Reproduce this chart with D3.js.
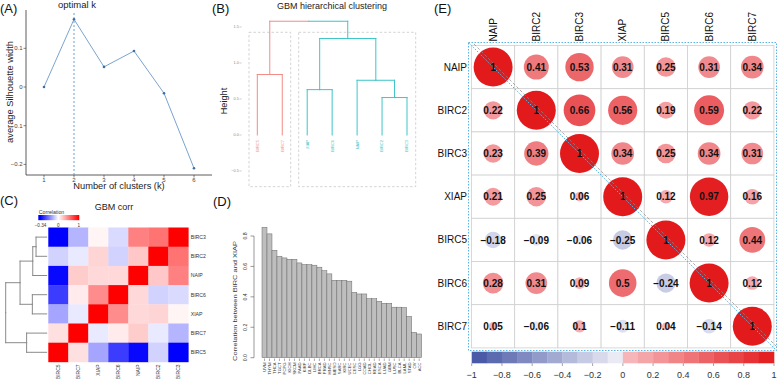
<!DOCTYPE html>
<html><head><meta charset="utf-8">
<script src="https://cdn.jsdelivr.net/npm/d3@7"></script>
<style>body{margin:0;background:#fff}svg{display:block;font-family:"Liberation Sans",Arial,sans-serif}</style>
</head><body><svg id="c" width="778" height="383"></svg>
<script>
// ---------- data ----------
const silK = [1, 2, 3, 4, 5, 6];
const silWidth = [0, 0.175, 0.052, 0.093, -0.016, -0.21];
const optimalK = 2;
const silYTicks = [-0.2, -0.1, 0, 0.1];

const hcLeaves = ["BIRC5", "BIRC7", "XIAP", "BIRC6", "NAIP", "BIRC2", "BIRC3"];
const hcCluster = [1, 1, 2, 2, 2, 2, 2];
const hcMerge = [[-1, -2], [-3, -4], [-6, -7], [-5, 3], [2, 4], [1, 5]];
const hcHeight = [0.84, 0.63, 0.52, 0.76, 1.34, 1.58];
const hcYTicks = [-0.5, 0, 0.5, 1, 1.5];

const heatRows = ["BIRC3", "BIRC2", "NAIP", "BIRC6", "XIAP", "BIRC7", "BIRC5"];
const heatCols = ["BIRC5", "BIRC7", "XIAP", "BIRC6", "NAIP", "BIRC2", "BIRC3"];
const heatCorr = [ // rows/cols in heatRows order
  [1, 0.55, 0.5, -0.05, 0.04, -0.1, -0.34],
  [0.55, 1, 0.22, -0.06, 0.17, -0.03, -0.06],
  [0.5, 0.22, 1, 0.15, 0.15, 0.2, -0.33],
  [-0.05, -0.06, 0.15, 1, 0.45, 0.08, -0.26],
  [0.04, 0.17, 0.15, 0.45, 1, -0.03, -0.12],
  [-0.1, -0.03, 0.2, 0.08, -0.03, 1, 0.12],
  [-0.34, -0.06, -0.33, -0.26, -0.12, 0.12, 1]
];
const heatMerge = [[-1, -2], [-3, 1], [-4, -5], [2, 3], [-6, -7], [4, 5]];
const heatHeight = [0.26, 0.34, 0.35, 0.65, 0.49, 1.0];
const heatLegendTicks = [-0.34, 0, 1];

const cancerTypes = ["UVM","THYM","THCA","TGCT","PCPG","KICH","SKCM","PAAD","KIRP","DLBC","LIHC","BRCA","PRAD","HNSC","MESO","SARC","KIRC","UCEC","CESC","LGG","COAD","CHOL","READ","ESCA","LUAD","GBM","LUSC","BLCA","LAML","STAD","OV","ACC"];
const cancerCorr = [0.857,0.814,0.706,0.667,0.656,0.647,0.647,0.623,0.612,0.612,0.608,0.595,0.572,0.551,0.509,0.509,0.509,0.503,0.430,0.419,0.419,0.388,0.388,0.371,0.358,0.358,0.332,0.332,0.330,0.272,0.167,0.156];
const barYTicks = [0, 0.2, 0.4, 0.6, 0.8];

const eGenes = ["NAIP", "BIRC2", "BIRC3", "XIAP", "BIRC5", "BIRC6", "BIRC7"];
const eCorr = [
  [1, 0.41, 0.53, 0.31, 0.25, 0.31, 0.34],
  [0.22, 1, 0.66, 0.56, 0.19, 0.59, 0.22],
  [0.23, 0.39, 1, 0.34, 0.25, 0.34, 0.31],
  [0.21, 0.25, 0.06, 1, 0.12, 0.97, 0.16],
  [-0.18, -0.09, -0.06, -0.25, 1, 0.12, 0.44],
  [0.28, 0.31, 0.09, 0.5, -0.24, 1, 0.12],
  [0.05, -0.06, 0.1, -0.11, 0.04, -0.14, 1]
];
const eTicks = [-1, -0.8, -0.6, -0.4, -0.2, 0, 0.2, 0.4, 0.6, 0.8, 1];

// ---------- helpers ----------
const svg = d3.select("#c");
svg.append("rect").attr("width", 778).attr("height", 383).attr("fill", "#fff");
const fmt = v => (v < 0 ? "\u2212" : "") + Math.abs(v).toString();
function text(g, x, y, s, size, o = {}) {
  const t = g.append("text").attr("x", x).attr("y", y).text(s)
    .attr("font-size", size).attr("fill", o.fill || "#222")
    .attr("text-anchor", o.anchor || "start");
  if (o.rot) t.attr("transform", `rotate(${o.rot},${x},${y})`);
  if (o.weight) t.attr("font-weight", o.weight);
  if (o.len) t.attr("textLength", o.len).attr("lengthAdjust", "spacingAndGlyphs");
  return t;
}
function dendro(g, merge, heights, leafPos, hScale, vertical, leafColor, nodeDefault) {
  const nodes = [];
  const child = c => c < 0 ? { pos: leafPos(-c - 1), h: 0, col: leafColor(-c - 1) } : nodes[c - 1];
  const seg = (p1, h1, p2, h2, col) => {
    const a = vertical ? [p1, hScale(h1), p2, hScale(h2)] : [hScale(h1), p1, hScale(h2), p2];
    g.append("line").attr("x1", a[0]).attr("y1", a[1]).attr("x2", a[2]).attr("y2", a[3])
      .attr("stroke", col).attr("stroke-width", 1).attr("stroke-linecap", "square");
  };
  merge.forEach((m, k) => {
    const a = child(m[0]), b = child(m[1]), h = heights[k];
    const mid = (a.pos + b.pos) / 2;
    seg(a.pos, a.h, a.pos, h, a.col);
    seg(b.pos, b.h, b.pos, h, b.col);
    seg(a.pos, h, mid, h, a.col);
    seg(mid, h, b.pos, h, b.col);
    nodes.push({ pos: mid, h, col: a.col === b.col ? a.col : nodeDefault });
  });
}

// panel labels
[["(A)", 0, 13], ["(B)", 212, 13], ["(E)", 434, 13], ["(C)", 0, 205], ["(D)", 213, 206]]
  .forEach(d => text(svg, d[1], d[2], d[0], 13, { fill: "#111" }));

// ---------- Panel A ----------
{
  const g = svg.append("g");
  const x = d3.scaleLinear().domain([1, 6]).range([44, 194]);
  const y = d3.scaleLinear().domain([0, 0.1]).range([87, 48.3]);
  g.append("line").attr("x1", 26).attr("x2", 26).attr("y1", 10).attr("y2", 175).attr("stroke", "#333").attr("stroke-width", 0.8);
  g.append("line").attr("x1", 26).attr("x2", 212).attr("y1", 175).attr("y2", 175).attr("stroke", "#333").attr("stroke-width", 0.8);
  silYTicks.forEach(t => {
    g.append("line").attr("x1", 23.5).attr("x2", 26).attr("y1", y(t)).attr("y2", y(t)).attr("stroke", "#333").attr("stroke-width", 0.6);
    text(g, 22.5, y(t) + 2, fmt(t), 6, { anchor: "end", fill: "#444" });
  });
  silK.forEach(k => {
    g.append("line").attr("x1", x(k)).attr("x2", x(k)).attr("y1", 175).attr("y2", 177.5).attr("stroke", "#333").attr("stroke-width", 0.6);
    text(g, x(k), 181.5, k, 6, { anchor: "middle", fill: "#444" });
  });
  g.append("line").attr("x1", x(optimalK)).attr("x2", x(optimalK)).attr("y1", 13).attr("y2", 175)
    .attr("stroke", "#4a86c5").attr("stroke-width", 0.8).attr("stroke-dasharray", "2,2");
  g.append("path").datum(silK.map((k, i) => [x(k), y(silWidth[i])]))
    .attr("d", d3.line()).attr("fill", "none").attr("stroke", "#7ba4cf").attr("stroke-width", 1);
  silK.forEach((k, i) => g.append("circle").attr("cx", x(k)).attr("cy", y(silWidth[i])).attr("r", 1.3).attr("fill", "#3e6fa3"));
  text(g, 77, 8, "optimal k", 9.5, { anchor: "middle" });
  text(g, 119, 189, "Number of clusters (k)", 9.3, { anchor: "middle" });
  text(g, 13, 92, "average Silhouette width", 9.3, { anchor: "middle", rot: -90 });
}

// ---------- Panel B ----------
{
  const g = svg.append("g");
  const x = d3.scalePoint().domain(d3.range(hcLeaves.length)).range([257.3, 407]);
  const y = d3.scaleLinear().domain([0, 1.5]).range([135, 27]);
  const cCol = { 1: "#f28b86", 2: "#3ec5c8" };
  g.append("rect").attr("x", 249).attr("y", 32.3).attr("width", 41.7).attr("height", 154.4)
    .attr("fill", "none").attr("stroke", "#c8c8c8").attr("stroke-width", 0.8).attr("stroke-dasharray", "2.5,2");
  g.append("rect").attr("x", 298.7).attr("y", 32.3).attr("width", 117).attr("height", 154.4)
    .attr("fill", "none").attr("stroke", "#c8c8c8").attr("stroke-width", 0.8).attr("stroke-dasharray", "2.5,2");
  dendro(g, hcMerge, hcHeight, i => x(i), y, true, i => cCol[hcCluster[i]], "#888");
  hcLeaves.forEach((l, i) => text(g, x(i) + 1.4, 140, l, 4, { anchor: "end", rot: -90, fill: cCol[hcCluster[i]] }));
  hcYTicks.forEach(t => {
    g.append("line").attr("x1", 239.5).attr("x2", 241.5).attr("y1", y(t)).attr("y2", y(t)).attr("stroke", "#999").attr("stroke-width", 0.5);
    text(g, 238.8, y(t) + 1.3, t.toFixed(1).replace("-", "\u2212"), 3.8, { anchor: "end", fill: "#888" });
  });
  text(g, 226.5, 101, "Height", 9.2, { anchor: "middle", rot: -90 });
  text(g, 332, 8.5, "GBM hierarchical clustering", 9, { anchor: "middle" });
}

// ---------- Panel C ----------
{
  const g = svg.append("g");
  const cw = 20, ch = 19.2, x0 = 48.3, y0 = 227.5;
  const col = d3.scaleLinear().domain([-0.34, 0, 1]).range(["#0000ff", "#ffffff", "#ff0000"]);
  heatRows.forEach((r, i) => heatCols.forEach((c, j) => {
    const v = heatCorr[i][heatRows.indexOf(c)];
    g.append("rect").attr("x", x0 + j * cw).attr("y", y0 + i * ch).attr("width", cw + 0.3).attr("height", ch + 0.3).attr("fill", col(v));
  }));
  heatRows.forEach((r, i) => text(g, x0 + 7 * cw + 2.4, y0 + i * ch + ch / 2 + 1.8, r, 5.2, { fill: "#333" }));
  heatCols.forEach((c, j) => text(g, x0 + j * cw + cw / 2 + 1.8, y0 + 7 * ch + 2.5, c, 5, { anchor: "end", rot: -90, fill: "#333" }));
  const hx = d3.scaleLinear().domain([0, 1]).range([46.7, 5.7]);
  dendro(g, heatMerge, heatHeight, i => y0 + i * ch + ch / 2, hx, false, () => "#8a8a8a", "#8a8a8a");
  // legend
  const lx = d3.scaleLinear().domain(heatLegendTicks).range([40.5, 58.3, 78.7]);
  const grad = svg.append("defs").append("linearGradient").attr("id", "cg");
  heatLegendTicks.forEach(t => grad.append("stop").attr("offset", ((lx(t) - 38.3) / 41) * 100 + "%").attr("stop-color", col(t)));
  g.append("rect").attr("x", 38.3).attr("y", 215).attr("width", 41).attr("height", 5.2).attr("fill", "url(#cg)");
  text(g, 38.8, 213.8, "Correlation", 5.2, { fill: "#333" });
  heatLegendTicks.forEach(t => text(g, lx(t), 226.5, fmt(t), 4.6, { anchor: "middle", fill: "#333" }));
  text(g, 114, 209.5, "GBM corr", 9, { anchor: "middle" });
}

// ---------- Panel D ----------
{
  const g = svg.append("g");
  const x = d3.scaleBand().domain(cancerTypes).range([262, 421.7]).padding(0);
  const y = d3.scaleLinear().domain([0, 0.8]).range([357.7, 236]);
  cancerTypes.forEach((c, i) => {
    g.append("rect").attr("x", x(c)).attr("y", y(cancerCorr[i])).attr("width", x.bandwidth()).attr("height", y(0) - y(cancerCorr[i]))
      .attr("fill", "#bebebe").attr("stroke", "#6a6a6a").attr("stroke-width", 0.5);
    const cx = x(c) + x.bandwidth() / 2;
    g.append("line").attr("x1", cx).attr("x2", cx).attr("y1", 358.5).attr("y2", 361).attr("stroke", "#555").attr("stroke-width", 0.5);
    text(g, cx + 1.4, 362.5, c, 4.2, { anchor: "end", rot: -90, fill: "#333" });
  });
  g.append("line").attr("x1", 254).attr("x2", 254).attr("y1", y(0)).attr("y2", y(0.8)).attr("stroke", "#555").attr("stroke-width", 0.6);
  barYTicks.forEach(t => {
    g.append("line").attr("x1", 250.5).attr("x2", 254).attr("y1", y(t)).attr("y2", y(t)).attr("stroke", "#555").attr("stroke-width", 0.6);
    text(g, 247.3, y(t), t.toFixed(1), 5.2, { anchor: "middle", rot: -90, fill: "#333" });
  });
  text(g, 237, 301, "Correlation between BIRC and XIAP", 6, { anchor: "middle", rot: -90, fill: "#333", len: 120 });
}

// ---------- Panel E ----------
{
  const g = svg.append("g");
  const xb = d3.scaleBand().domain(eGenes).range([471.5, 773.9]);
  const yb = d3.scaleBand().domain(eGenes).range([45.5, 347.9]);
  const cs = xb.bandwidth();
  const negI = d3.interpolateRgb("#f2f2f8", "#4252a3");
  const posI = d3.interpolateRgb("#f7bdc1", "#e31a1c");
  const eColor = v => v < 0 ? negI(-v) : posI(v);
  eGenes.forEach((r, i) => eGenes.forEach((c, j) => {
    g.append("rect").attr("x", xb(c)).attr("y", yb(r)).attr("width", cs).attr("height", cs)
      .attr("fill", "#fff").attr("stroke", "#cfcfcf").attr("stroke-width", 0.8);
  }));
  eGenes.forEach((r, i) => eGenes.forEach((c, j) => {
    const v = eCorr[i][j];
    g.append("circle").attr("cx", xb(c) + cs / 2).attr("cy", yb(r) + cs / 2)
      .attr("r", Math.sqrt(Math.abs(v)) * 19.5).attr("fill", eColor(v));
  }));
  g.append("rect").attr("x", 468.5).attr("y", 42.5).attr("width", 308).attr("height", 308)
    .attr("fill", "none").attr("stroke", "#5ab4e5").attr("stroke-width", 1).attr("stroke-dasharray", "1.5,1.5");
  g.append("line").attr("x1", 468.5).attr("y1", 42.5).attr("x2", 776.5).attr("y2", 350.5)
    .attr("stroke", "#5ab4e5").attr("stroke-width", 1).attr("stroke-dasharray", "1.5,1.5");
  g.append("line").attr("x1", 474).attr("y1", 44).attr("x2", 776.5).attr("y2", 346.5)
    .attr("stroke", "#8a8a8a").attr("stroke-width", 0.7).attr("stroke-dasharray", "3,2");
  eGenes.forEach((r, i) => eGenes.forEach((c, j) => {
    text(g, xb(c) + cs / 2, yb(r) + cs / 2 + 3.6, fmt(eCorr[i][j]), 10, { anchor: "middle", weight: "bold", fill: "#111" });
  }));
  eGenes.forEach(r => text(g, 467, yb(r) + cs / 2 + 3.5, r, 10, { anchor: "end", fill: "#111" }));
  eGenes.forEach(c => text(g, xb(c) + cs / 2 + 3.5, 41.5, c, 10, { rot: -90, fill: "#111" }));
  const cx = d3.scaleLinear().domain([-1, 1]).range([471.7, 774]);
  d3.range(20).forEach(k => {
    const a = -1 + k * 0.1;
    g.append("rect").attr("x", cx(a)).attr("y", 351.7).attr("width", cx(a + 0.1) - cx(a) + 0.3).attr("height", 11.6)
      .attr("fill", eColor(a + 0.05));
  });
  eTicks.forEach(t => {
    g.append("line").attr("x1", cx(t)).attr("x2", cx(t)).attr("y1", 363.3).attr("y2", 366).attr("stroke", "#666").attr("stroke-width", 0.6);
    text(g, cx(t), 378.3, fmt(+t.toFixed(1)), 9, { anchor: "middle", fill: "#333" });
  });
}
</script></body></html>
